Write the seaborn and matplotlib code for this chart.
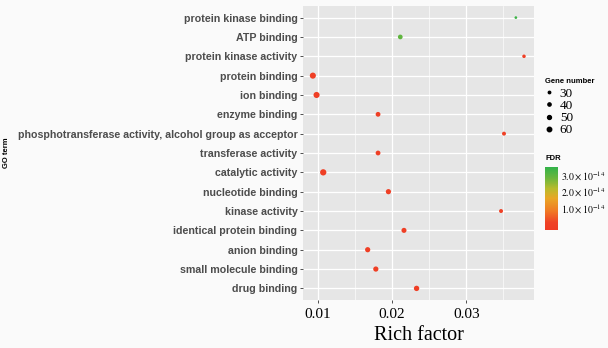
import matplotlib
matplotlib.use("Agg")
import matplotlib.pyplot as plt
import seaborn as sns
import numpy as np
import pandas as pd
from matplotlib.colors import LinearSegmentedColormap, Normalize
from matplotlib.lines import Line2D
from matplotlib.ticker import FixedLocator
import matplotlib.colorbar as mcolorbar

terms = ["protein kinase binding", "ATP binding", "protein kinase activity",
         "protein binding", "ion binding", "enzyme binding",
         "phosphotransferase activity, alcohol group as acceptor",
         "transferase activity", "catalytic activity", "nucleotide binding",
         "kinase activity", "identical protein binding", "anion binding",
         "small molecule binding", "drug binding"]
rich_factor = [0.0367, 0.0211, 0.0378, 0.0093, 0.0098, 0.0181, 0.0351,
               0.0181, 0.0107, 0.0195, 0.0347, 0.0216, 0.0167, 0.0178, 0.0233]
gene_number = [26, 44, 32, 62, 62, 45, 36, 45, 65, 50, 36, 48, 50, 50, 52]
fdr = [3.35e-14, 2.95e-14, 0.02e-14, 0.01e-14, 0.01e-14, 0.01e-14, 0.03e-14,
       0.01e-14, 0.01e-14, 0.01e-14, 0.03e-14, 0.01e-14, 0.01e-14, 0.01e-14, 0.01e-14]
size_breaks = [30, 40, 50, 60]
fdr_ticks = [1.0e-14, 2.0e-14, 3.0e-14]
fdr_labels = [r"$1.0\times10^{-14}$", r"$2.0\times10^{-14}$", r"$3.0\times10^{-14}$"]

df = pd.DataFrame({"term": terms, "rich": rich_factor, "genes": gene_number, "FDR": fdr})

cmap = LinearSegmentedColormap.from_list(
    "fdr", [(0.0, "#EF3A24"), (0.12, "#EF4226"), (0.3, "#F07A24"), (0.5, "#E9A625"),
            (0.65, "#B9BB2C"), (0.82, "#6CB63C"), (1.0, "#30B24A")])
norm = Normalize(vmin=-0.3e-14, vmax=3.5e-14)

plt.rcParams["font.family"] = ["Liberation Sans", "DejaVu Sans"]
plt.rcParams["mathtext.fontset"] = "stix"

fig = plt.figure(figsize=(6.08, 3.48), dpi=100)
fig.patch.set_facecolor("#FAFAFA")
ax = fig.add_axes([303 / 608, 1 - 300 / 348, 231 / 608, 294 / 348])
ax.set_facecolor("#E6E6E6")

sns.scatterplot(data=df, x="rich", y="term", size="genes", hue="FDR",
                palette=cmap, hue_norm=norm, sizes=(3.8, 20.6), size_norm=(26, 65),
                linewidth=0, legend=False, ax=ax, zorder=3)

ax.set_ylim(len(terms) - 0.4, -0.6)
ax.set_xlim(0.00797, 0.03915)
ax.xaxis.set_major_locator(FixedLocator([0.01, 0.02, 0.03]))
ax.xaxis.set_minor_locator(FixedLocator([0.015, 0.025, 0.035]))
ax.set_xticklabels(["0.01", "0.02", "0.03"], family=["Liberation Serif"], fontsize=11, color="black")
ax.grid(which="major", color="white", linewidth=0.9, zorder=0)
ax.grid(which="minor", axis="x", color="white", linewidth=0.45, zorder=0)
ax.set_axisbelow(True)
for s in ax.spines.values():
    s.set_visible(False)
ax.tick_params(axis="y", which="major", length=2.5, width=0.6, color="#333333", pad=1.5)
ax.tick_params(axis="x", which="major", length=2.5, width=0.6, color="#333333", pad=3.5)
ax.tick_params(axis="x", which="minor", length=0)
for lab in ax.get_yticklabels():
    lab.set_fontsize(7.7)
    lab.set_fontweight("bold")
    lab.set_color("#4D4D4D")
ax.set_xlabel("Rich factor", family=["Liberation Serif"], fontsize=14.5, labelpad=3)
ax.set_ylabel("")
fig.text(7 / 608, 1 - 153 / 348, "GO term", rotation=90, fontsize=5.5, fontweight="bold",
         ha="center", va="center")

# size legend
handles = []
for b in size_breaks:
    s = 3.8 + (20.6 - 3.8) * (b - 26) / (65 - 26)
    handles.append(Line2D([], [], marker="o", linestyle="", color="black",
                          markersize=np.sqrt(s) * 0.75, label=str(b)))
leg = fig.legend(handles=handles, loc="upper left", bbox_to_anchor=(542 / 608, 1 - 75 / 348),
                 frameon=False, title="Gene number", handlelength=0.7, handletextpad=0.45,
                 labelspacing=0.0, borderpad=0.2, borderaxespad=0,
                 prop={"family": ["Liberation Serif"], "size": 9.5})
leg.get_title().set_fontsize(5.5)
leg.get_title().set_fontweight("bold")
leg._legend_box.align = "left"
leg._legend_box.sep = 2

# colorbar
cax = fig.add_axes([545 / 608, 1 - 230 / 348, 13 / 608, 63.3 / 348])
cb = mcolorbar.ColorbarBase(cax, cmap=cmap, norm=norm, orientation="vertical")
cb.outline.set_visible(False)
cb.set_ticks(fdr_ticks)
cb.set_ticklabels(fdr_labels)
cax.tick_params(length=0, pad=2, labelsize=7)
fig.text(545 / 608, 1 - 159 / 348, "FDR", fontsize=5.5, fontweight="bold", va="center", ha="left")

fig.savefig("out.png", dpi=100, facecolor=fig.get_facecolor())
